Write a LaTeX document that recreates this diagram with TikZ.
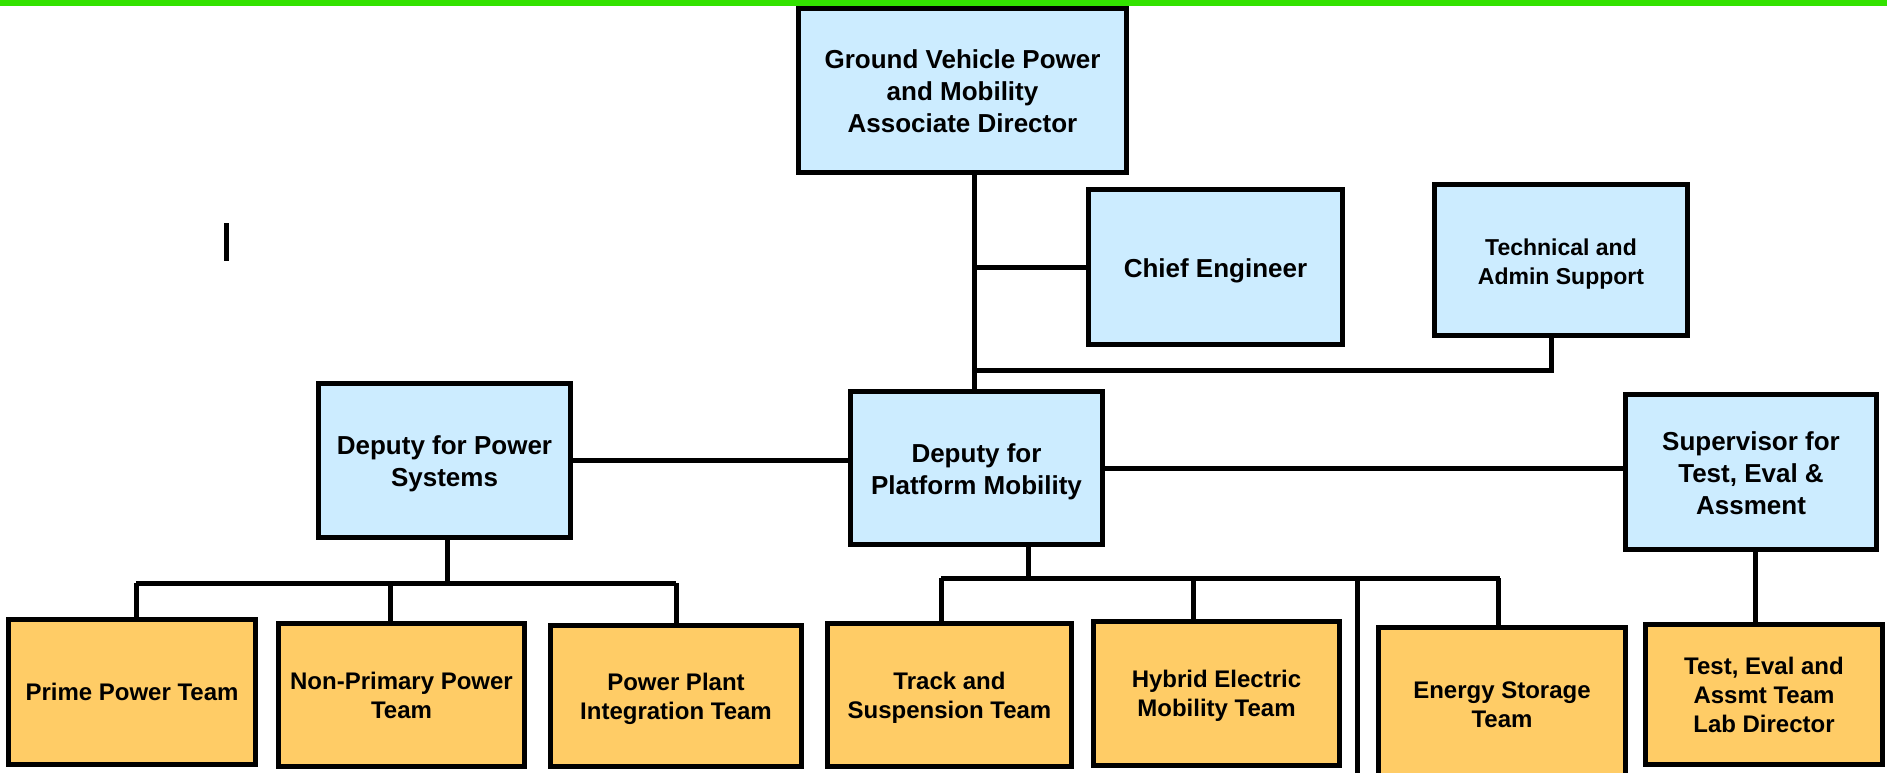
\documentclass[tikz,border=0pt]{standalone}
\usepackage{fontspec}
\setmainfont{Liberation Sans}
\definecolor{barGreen}{RGB}{51,226,0}
\definecolor{boxBlue}{RGB}{204,236,255}
\definecolor{boxOrange}{RGB}{255,204,102}
\newcommand\lowtext[2]{\raisebox{-#1}[\height][\depth]{\begin{tabular}{@{}c@{}}#2\end{tabular}}}
\begin{document}
\begin{tikzpicture}[x=1pt,y=-1pt,
  box/.style={draw=black,line width=5pt,inner sep=0pt,outer sep=0pt,font=\bfseries},
  bluebox/.style={box,fill=boxBlue,font=\bfseries\fontsize{26}{32}\selectfont},
  orangebox/.style={box,fill=boxOrange,font=\bfseries\fontsize{24}{29}\selectfont},
  conn/.style={draw=black,line width=5pt}]
\useasboundingbox (0,0) rectangle (1887,772);
\fill[barGreen] (0,0) rectangle (1887,5.5);
% blue boxes
\node[bluebox,minimum width=328pt,minimum height=164pt] (top) at (962.5,90.5) {\lowtext{4pt}{Ground Vehicle Power\\and Mobility\\Associate Director}};
\node[bluebox,minimum width=254pt,minimum height=155pt] (chief) at (1215.5,267) {\lowtext{4pt}{Chief Engineer}};
\node[bluebox,minimum width=253pt,minimum height=151pt,font=\bfseries\fontsize{23}{29}\selectfont] (tech) at (1561,260) {\lowtext{4pt}{Technical and\\Admin Support}};
\node[bluebox,minimum width=252pt,minimum height=154pt] (dps) at (444.5,460.5) {\lowtext{4pt}{Deputy for Power\\Systems}};
\node[bluebox,minimum width=252pt,minimum height=153pt] (dpm) at (976.5,468) {\lowtext{4pt}{Deputy for\\Platform Mobility}};
\node[bluebox,minimum width=251pt,minimum height=155pt] (sup) at (1751,472) {\lowtext{4pt}{Supervisor for\\Test, Eval \&\\Assment}};
% orange boxes
\node[orangebox,minimum width=247pt,minimum height=145pt] (prime) at (132,692) {\lowtext{3pt}{Prime Power Team}};
\node[orangebox,minimum width=246pt,minimum height=143pt] (nonp) at (401.5,695) {\lowtext{3pt}{Non-Primary Power\\Team}};
\node[orangebox,minimum width=251pt,minimum height=141pt] (plant) at (676,696) {\lowtext{3pt}{Power Plant\\Integration Team}};
\node[orangebox,minimum width=244pt,minimum height=143pt] (track) at (949.5,695) {\lowtext{3pt}{Track and\\Suspension Team}};
\node[orangebox,minimum width=246pt,minimum height=144pt] (hybrid) at (1216.5,693.5) {\lowtext{3pt}{Hybrid Electric\\Mobility Team}};
\node[orangebox,minimum width=247pt,minimum height=153pt] (energy) at (1502,704) {\lowtext{3pt}{Energy Storage\\Team}};
\node[orangebox,minimum width=237pt,minimum height=140pt] (lab) at (1764,694.5) {\lowtext{3pt}{Test, Eval and\\Assmt Team\\Lab Director}};
% coordinates
\coordinate (spine) at (974,175);
\coordinate (techjoin) at (974,370);
\coordinate (techdrop) at (1551,370);
\coordinate (psbusL) at (136,583);
\coordinate (psbusR) at (676,583);
\coordinate (psdown) at (447,583);
\coordinate (psmid) at (390,583);
\coordinate (pmdown) at (1028,578);
\coordinate (pmbusL) at (941,578);
\coordinate (pmbusR) at (1500,578);
\coordinate (pmmid) at (1193,578);
\coordinate (pmlong) at (1357,578);
\coordinate (pmlongEnd) at (1357,780);
\coordinate (pmright) at (1498,578);
\coordinate (supdrop) at (1755,552);
% connectors
\draw[conn] (top.south -| spine) -- (dpm.north -| spine);
\draw[conn] (chief.west -| spine) -- (chief.west);
\draw[conn] (tech.south -| techdrop) -- (techdrop) -- (techjoin);
\draw[conn] (dps.east) -- (dps.east -| dpm.west);
\draw[conn] (dpm.east) -- (dpm.east -| sup.west);
\draw[conn] (dps.south -| psdown) -- (psdown);
\draw[conn] (psbusL) -- (psbusR);
\draw[conn] (psbusL) -- (psbusL |- prime.north);
\draw[conn] (psmid) -- (psmid |- nonp.north);
\draw[conn] (psbusR) -- (psbusR |- plant.north);
\draw[conn] (dpm.south -| pmdown) -- (pmdown);
\draw[conn] (pmbusL) -- (pmbusR);
\draw[conn] (pmbusL) -- (pmbusL |- track.north);
\draw[conn] (pmmid) -- (pmmid |- hybrid.north);
\draw[conn] (pmlong) -- (pmlongEnd);
\draw[conn] (pmright) -- (pmright |- energy.north);
\draw[conn] (sup.south -| supdrop) -- (supdrop |- lab.north);
% stray mark
\coordinate (markTop) at (226.5,223);
\coordinate (markBot) at (226.5,261);
\draw[conn] (markTop) -- (markBot);
\end{tikzpicture}
\end{document}
